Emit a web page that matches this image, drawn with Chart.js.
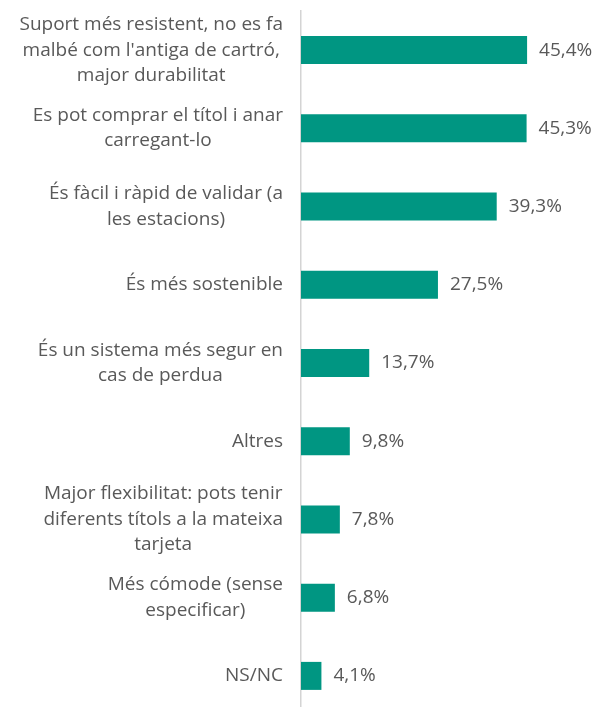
<!DOCTYPE html>
<html>
<head>
<meta charset="utf-8">
<script src="https://cdn.jsdelivr.net/npm/chart.js@4"></script>
<style>
  html, body { margin: 0; padding: 0; background: #fff; overflow: hidden; }
  #wrap { width: 605px; height: 720px; position: relative; }
</style>
</head>
<body>
<div id="wrap"><canvas id="c"></canvas></div>
<script>
// Reasons given for preferring the new card
const categories = [
  ["Suport més resistent, no es fa", "malbé com l'antiga de cartró,", "major durabilitat"],
  ["Es pot comprar el títol i anar", "carregant-lo"],
  ["És fàcil i ràpid de validar (a", "les estacions)"],
  ["És més sostenible"],
  ["És un sistema més segur en", "cas de perdua"],
  ["Altres"],
  ["Major flexibilitat: pots tenir", "diferents títols a la mateixa", "tarjeta"],
  ["Més cómode (sense", "especificar)"],
  ["NS/NC"]
];
const percentages = [45.4, 45.3, 39.3, 27.5, 13.7, 9.8, 7.8, 6.8, 4.1];

const FONT = "'Open Sans', sans-serif";
const SIZE = 19;
const TEXT = '#595959';
const BAR = '#009682';

const fmt = v => v.toFixed(1).replace('.', ',') + '%';

// Category labels: each block right-aligned against the axis, its lines centred
const categoryLabels = {
  id: 'categoryLabels',
  afterDraw(chart) {
    const ctx = chart.ctx;
    const y = chart.scales.y;
    const right = chart.chartArea.left - 18;
    const lh = 25.5;
    ctx.save();
    ctx.font = SIZE + 'px ' + FONT;
    ctx.fillStyle = TEXT;
    ctx.textAlign = 'center';
    ctx.textBaseline = 'middle';
    categories.forEach((lines, i) => {
      const cy = y.getPixelForTick(i);
      const widest = Math.max(...lines.map(l => ctx.measureText(l).width));
      const cx = right - widest / 2;
      const top = cy - (lines.length - 1) * lh / 2;
      lines.forEach((l, k) => ctx.fillText(l, cx, top + k * lh));
    });
    ctx.restore();
  }
};

// Value labels to the right of each bar
const valueLabels = {
  id: 'valueLabels',
  afterDatasetsDraw(chart) {
    const ctx = chart.ctx;
    const meta = chart.getDatasetMeta(0);
    ctx.save();
    ctx.font = SIZE + 'px ' + FONT;
    ctx.fillStyle = TEXT;
    ctx.textAlign = 'left';
    ctx.textBaseline = 'middle';
    meta.data.forEach((bar, i) => {
      ctx.fillText(fmt(percentages[i]), bar.x + 12, bar.y);
    });
    ctx.restore();
  }
};

new Chart(document.getElementById('c'), {
  type: 'bar',
  data: {
    labels: categories.map(c => c.join(' ')),
    datasets: [{
      data: percentages,
      backgroundColor: BAR,
      borderWidth: 0,
      barPercentage: 0.358,
      categoryPercentage: 1
    }]
  },
  options: {
    indexAxis: 'y',
    responsive: true,
    maintainAspectRatio: false,
    animation: false,
    layout: { padding: { left: 293, right: 55, top: 11, bottom: 5 } },
    scales: {
      x: {
        min: 0, max: 50,
        display: false
      },
      y: {
        ticks: { display: false },
        grid: { display: false },
        border: { display: true, color: '#d4d4d4', width: 1.5 }
      }
    },
    plugins: {
      legend: { display: false },
      tooltip: { enabled: false }
    }
  },
  plugins: [categoryLabels, valueLabels]
});
</script>
</body>
</html>
